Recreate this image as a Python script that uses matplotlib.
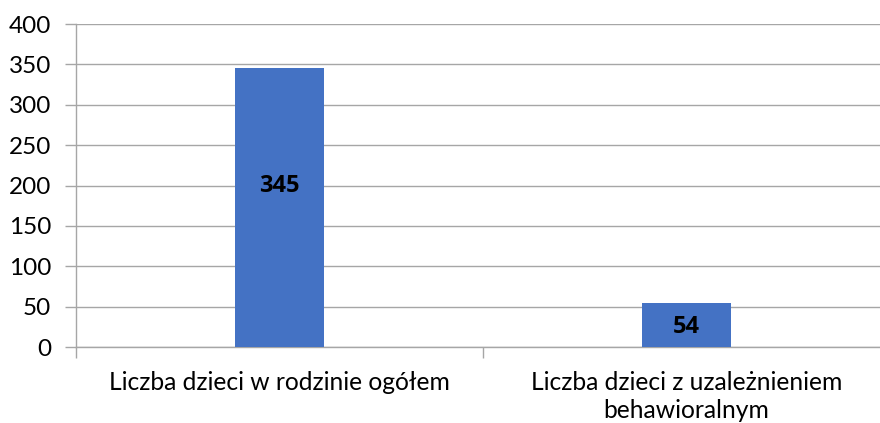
import matplotlib.pyplot as plt
import numpy as np

categories = ['Liczba dzieci w rodzinie ogółem', 'Liczba dzieci z uzależnieniem\nbehawioralnym']
values = [345, 54]
label_pos = [200, 25]
yticks = [0, 50, 100, 150, 200, 250, 300, 350, 400]

plt.rcParams['font.family'] = ['Lato', 'DejaVu Sans']

fig = plt.figure(figsize=(8.8, 4.23), dpi=100)
# plot area is cut off on the right in the original, so it runs past the figure edge
ax = fig.add_axes([76 / 880, 1 - 347 / 423, 814 / 880, (347 - 24) / 423])

x = np.arange(len(categories))
bars = ax.bar(x, values, width=0.221, color='#4472C4', zorder=3)
for b, v, ly in zip(bars, values, label_pos):
    ax.text(b.get_x() + b.get_width() / 2, ly, str(v), ha='center', va='center',
            fontsize=17, fontweight='bold', family=['Open Sans', 'DejaVu Sans'],
            color='black', zorder=4)

ax.set_xlim(-0.5, 1.5)
ax.set_ylim(0, 400)
ax.set_yticks(yticks)
ax.tick_params(axis='y', labelsize=17.5, length=8, color='#A6A6A6', width=1, pad=10)
ax.yaxis.grid(True, color='#A6A6A6', linewidth=1, zorder=0)

ax.set_xticks([-0.5, 0.5, 1.5])
ax.set_xticklabels([])
ax.set_xticks(x, minor=True)
ax.set_xticklabels(categories, minor=True, fontsize=17.7, linespacing=1.3)
ax.tick_params(axis='x', which='major', length=8, color='#A6A6A6', width=1)
ax.tick_params(axis='x', which='minor', length=0, pad=17)

for s in ['top', 'right']:
    ax.spines[s].set_visible(False)
for s in ['left', 'bottom']:
    ax.spines[s].set_color('#A6A6A6')
    ax.spines[s].set_linewidth(1)

fig.savefig('out.png', dpi=100)
